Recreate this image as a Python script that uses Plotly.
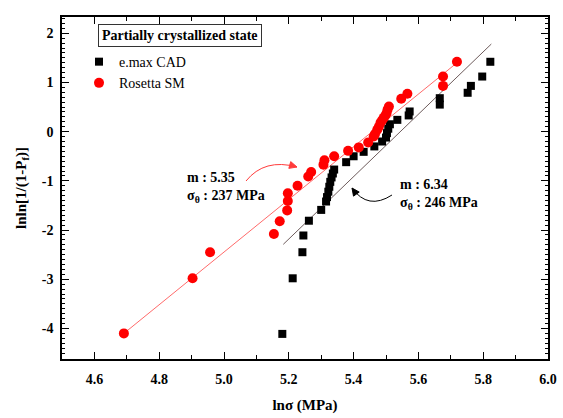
import math
import plotly.graph_objects as go

# ---- data ----
emax_x = [5.180, 5.212, 5.242, 5.245, 5.262, 5.300, 5.315, 5.318, 5.322, 5.325,
          5.328, 5.332, 5.336, 5.340, 5.377, 5.400, 5.431, 5.464, 5.488, 5.500,
          5.503, 5.507, 5.512, 5.535, 5.570, 5.573, 5.666, 5.666, 5.752, 5.762,
          5.797, 5.822]
emax_y = [-4.11, -2.98, -2.45, -2.11, -1.81, -1.59, -1.42, -1.33, -1.22, -1.12,
          -1.02, -0.93, -0.85, -0.77, -0.62, -0.50, -0.41, -0.30, -0.20, -0.12,
          -0.03, 0.06, 0.15, 0.24, 0.33, 0.41, 0.55, 0.68, 0.79, 0.93,
          1.12, 1.42]

ros_x = [4.691, 4.903, 4.957, 5.154, 5.172, 5.195, 5.197, 5.197, 5.227, 5.260,
         5.269, 5.307, 5.310, 5.340, 5.383, 5.416, 5.445, 5.462, 5.466, 5.473,
         5.478, 5.483, 5.488, 5.493, 5.498, 5.502, 5.505, 5.509, 5.547, 5.566,
         5.676, 5.676, 5.719]
ros_y = [-4.10, -2.98, -2.45, -2.08, -1.82, -1.60, -1.41, -1.25, -1.10, -0.91,
         -0.82, -0.67, -0.58, -0.50, -0.39, -0.32, -0.22, -0.10, -0.05, 0.04,
         0.10, 0.18, 0.23, 0.28, 0.33, 0.38, 0.45, 0.51, 0.67, 0.77,
         0.93, 1.12, 1.42]

# Weibull fit lines: y = m*x + b
ros_m, ros_b, ros_xrange = 5.35, -29.197, [4.691, 5.719]
emax_m, emax_b, emax_xrange = 6.34, -35.15, [5.183, 5.825]

x_ticks = [4.6, 4.8, 5.0, 5.2, 5.4, 5.6, 5.8, 6.0]
x_ticklabels = ["4.6", "4.8", "5.0", "5.2", "5.4", "5.6", "5.8", "6.0"]
y_ticks = [-4, -3, -2, -1, 0, 1, 2]
y_ticklabels = ["-4", "-3", "-2", "-1", "0", "1", "2"]

FONT = "Liberation Serif"

# layout geometry (pixels)
W, H = 563, 418
ML, MR, MT, MB = 62, 15, 17, 59
XR = [4.5, 6.0]
YR = [-4.62, 2.33]
PW, PH = W - ML - MR, H - MT - MB


def px2data(px, py):
    x = XR[0] + (px - ML) / PW * (XR[1] - XR[0])
    y = YR[1] - (py - MT) / PH * (YR[1] - YR[0])
    return x, y


def bezier_path(p0, c, p1):
    a, b, d = px2data(*p0), px2data(*c), px2data(*p1)
    return f"M {a[0]:.4f},{a[1]:.4f} Q {b[0]:.4f},{b[1]:.4f} {d[0]:.4f},{d[1]:.4f}"


def head_path(c, tip, length=7.5, half=3.5):
    dx, dy = tip[0] - c[0], tip[1] - c[1]
    n = math.hypot(dx, dy)
    dx, dy = dx / n, dy / n
    bx, by = tip[0] - length * dx, tip[1] - length * dy
    p1 = (bx - half * dy, by + half * dx)
    p2 = (bx + half * dy, by - half * dx)
    pts = [px2data(*tip), px2data(*p1), px2data(*p2)]
    return "M " + " L ".join(f"{x:.4f},{y:.4f}" for x, y in pts) + " Z"


fig = go.Figure()

fig.add_trace(go.Scatter(
    x=ros_xrange, y=[ros_m * v + ros_b for v in ros_xrange], mode="lines",
    line=dict(color="#ff6a6a", width=1), showlegend=False, hoverinfo="skip"))
fig.add_trace(go.Scatter(
    x=emax_xrange, y=[emax_m * v + emax_b for v in emax_xrange], mode="lines",
    line=dict(color="#6e5c5c", width=1), showlegend=False, hoverinfo="skip"))

fig.add_trace(go.Scatter(
    x=emax_x, y=emax_y, mode="markers", name="e.max CAD",
    marker=dict(symbol="square", size=8, color="black")))
fig.add_trace(go.Scatter(
    x=ros_x, y=ros_y, mode="markers", name="Rosetta SM",
    marker=dict(symbol="circle", size=10, color="#ff0000")))

# curved arrows
red_arrow = ((246, 181), (264.5, 158), (297, 167))
blk_arrow = ((392, 195), (368, 210.5), (352, 188))
for (p0, c, p1), col in ((red_arrow, "#ff3b3b"), (blk_arrow, "black")):
    fig.add_shape(type="path", xref="x", yref="y", path=bezier_path(p0, c, p1),
                  line=dict(color=col, width=1))
    fig.add_shape(type="path", xref="x", yref="y", path=head_path(c, p1),
                  line=dict(color=col, width=1), fillcolor=col)

fig.add_annotation(x=(185 - ML) / PW, y=(H - MB - 187) / PH, xref="paper", yref="paper",
                   xanchor="left", yanchor="middle", align="left", showarrow=False,
                   text="<b>m : 5.35</b><br><b>σ<sub>θ</sub> : 237 MPa</b>",
                   font=dict(family=FONT, size=14, color="black"))
fig.add_annotation(x=(398 - ML) / PW, y=(H - MB - 194) / PH, xref="paper", yref="paper",
                   xanchor="left", yanchor="middle", align="left", showarrow=False,
                   text="<b>m : 6.34</b><br><b>σ<sub>θ</sub> : 246 MPa</b>",
                   font=dict(family=FONT, size=14, color="black"))
fig.add_annotation(x=(180 - ML) / PW, y=(H - MB - 35) / PH, xref="paper", yref="paper",
                   xanchor="center", yanchor="middle", showarrow=False,
                   text="<b>Partially crystallized state</b>",
                   bordercolor="#333333", borderwidth=1, borderpad=3,
                   font=dict(family=FONT, size=14, color="black"))

fig.update_layout(
    width=W, height=H,
    margin=dict(l=ML, r=MR, t=MT, b=MB, autoexpand=False),
    paper_bgcolor="white", plot_bgcolor="white",
    font=dict(family=FONT, size=13, color="black"),
    legend=dict(x=0.035, y=0.915, xanchor="left", yanchor="top",
                bgcolor="rgba(0,0,0,0)", font=dict(family=FONT, size=14),
                tracegroupgap=0, itemwidth=30),
    xaxis=dict(range=XR, tickvals=x_ticks, ticktext=[f"<b>{t}</b>" for t in x_ticklabels],
               ticks="inside", ticklen=7, tickwidth=1.2, tickcolor="black",
               showline=True, linecolor="black", linewidth=1.5, mirror="allticks",
               showgrid=False, zeroline=False, automargin=False,
               tickfont=dict(family=FONT, size=14), ticklabelstandoff=6,
               minor=dict(dtick=0.1, ticks="inside", ticklen=4, tickcolor="black"),
               title=dict(text="<b>lnσ (MPa)</b>", font=dict(family=FONT, size=15), standoff=14)),
    yaxis=dict(range=YR, tickvals=y_ticks, ticktext=[f"<b>{t}</b>" for t in y_ticklabels],
               ticks="inside", ticklen=7, tickwidth=1.2, tickcolor="black",
               showline=True, linecolor="black", linewidth=1.5, mirror="allticks",
               showgrid=False, zeroline=False, automargin=False,
               tickfont=dict(family=FONT, size=14), ticklabelstandoff=4,
               minor=dict(dtick=0.1, ticks="inside", ticklen=3, tickcolor="black"),
               title=dict(text="<b>lnln[1/(1-P<sub>f</sub>)]</b>", font=dict(family=FONT, size=15), standoff=12)),
)

fig.write_html("out.html", config={"displayModeBar": False})

# remove the browser's default page margin so the figure sits at the window origin
with open("out.html", encoding="utf-8") as f:
    html = f.read()
html = html.replace("<head>", "<head><style>html,body{margin:0;padding:0;}</style>", 1)
with open("out.html", "w", encoding="utf-8") as f:
    f.write(html)
